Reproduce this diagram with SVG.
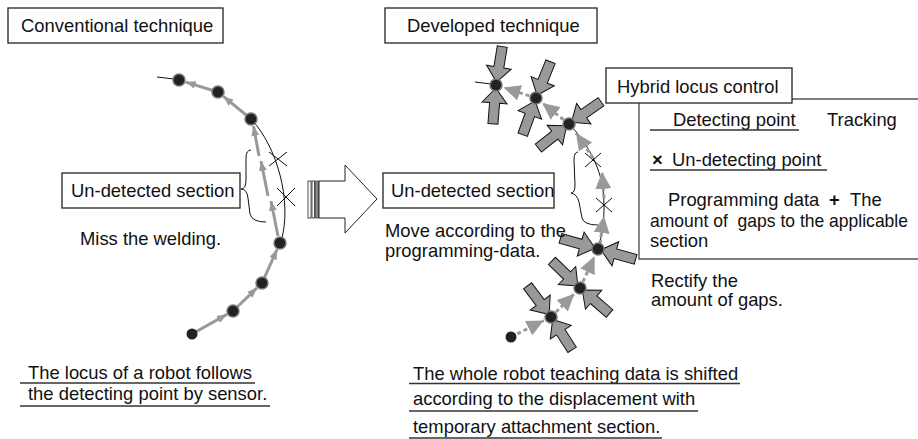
<svg xmlns="http://www.w3.org/2000/svg" xmlns:xlink="http://www.w3.org/1999/xlink" width="918" height="439" viewBox="0 0 918 439">
  <style>
    text { font-family: "Liberation Sans", Arial, sans-serif; font-size: 18.4px; fill: #111; }
    .box { fill: #fff; stroke: #222; stroke-width: 1.3; }
    .uline { stroke: #333; stroke-width: 1.3; }
    .bracket { fill: none; stroke: #555; stroke-width: 1.4; }
    .thin { fill: none; stroke: #111; stroke-width: 1; }
    .trail { stroke: #999; stroke-width: 3; fill: none; }
    .trail-dash { stroke: #999; stroke-width: 3; fill: none; stroke-dasharray: 4 3; }
    .dot { fill: #222; stroke: #777; stroke-width: 1.5; }
    .push { fill: #999; stroke: #111; stroke-width: 1; stroke-linejoin: miter; }
  </style>
  <defs>
    <marker id="smallHead" viewBox="0 0 10 8" refX="10" refY="4" markerWidth="10" markerHeight="8" markerUnits="userSpaceOnUse" orient="auto">
      <path d="M0,0 L10,4 L0,8 Z" fill="#999"/>
    </marker>
    <marker id="bigHead" viewBox="0 0 17 16" refX="17" refY="8" markerWidth="17" markerHeight="16" markerUnits="userSpaceOnUse" orient="auto">
      <path d="M0,0 L17,8 L0,16 Z" fill="#999"/>
    </marker>
    <!-- block arrow pointing along +x, tip 3px before the origin -->
    <path id="push" class="push" d="M-3,0 L-18,-12.5 L-18,-5 L-39,-5 L-39,5 L-18,5 L-18,12.5 Z"/>
  </defs>

  <rect width="918" height="439" fill="#fff"/>

  <!-- title boxes -->
  <g id="conventional-title">
    <rect class="box" x="8" y="8" width="215" height="35"/>
    <text x="21" y="32">Conventional technique</text>
  </g>
  <g id="developed-title">
    <rect class="box" x="385" y="8" width="212" height="35"/>
    <text x="407" y="32">Developed technique</text>
  </g>

  <!-- connectors -->
  <g id="connectors">
    <!-- left locus -->
    <line x1="157" y1="77" x2="174" y2="79" class="thin"/>
    <line class="trail" x1="192" y1="334" x2="226.9" y2="314.4" marker-end="url(#smallHead)"/>
    <line class="trail" x1="233" y1="311" x2="257" y2="287.9" marker-end="url(#smallHead)"/>
    <line class="trail" x1="262" y1="283" x2="277.1" y2="249.4" marker-end="url(#smallHead)"/>
    <line class="trail" x1="278" y1="236" x2="271" y2="201" marker-end="url(#smallHead)"/>
    <line class="trail" x1="268" y1="196" x2="261" y2="161" marker-end="url(#smallHead)"/>
    <line class="trail" x1="259" y1="156" x2="253.5" y2="126" marker-end="url(#smallHead)"/>
    <line class="trail" x1="251" y1="119" x2="223.4" y2="96.4" marker-end="url(#smallHead)"/>
    <line class="trail" x1="218" y1="92" x2="185.7" y2="82.1" marker-end="url(#smallHead)"/>
    <path class="thin" d="M252,120 C276,146 293,200 281,242"/>
    <path class="thin" d="M269,152 L287,166 M287,152 L269,166"/>
    <path class="thin" d="M277,188 L295,206 M295,188 L277,206"/>
    <path class="thin" d="M251,150 Q246,150 246,158 L246,180 Q246,189 241,189 Q247,189 248,198 L250,214 Q252,222 266,222"/>

    <!-- transition arrow -->
    <rect x="308" y="181" width="3" height="37" fill="#fff" stroke="#222" stroke-width="0.8"/>
    <rect x="312" y="181" width="2.5" height="37" fill="#fff" stroke="#222" stroke-width="0.8"/>
    <rect x="315.3" y="181" width="3.2" height="37" fill="#888" stroke="#444" stroke-width="0.8"/>
    <path d="M319,181 L345,181 L345,165 L377,199 L345,233 L345,218 L319,218 Z" fill="#fff" stroke="#222" stroke-width="1"/>

    <!-- right locus -->
    <line x1="475" y1="82" x2="491" y2="84" class="thin"/>
    <path class="thin" d="M569,124 C585,140 600,165 603,190 C606,215 602,235 598,249"/>
    <path class="thin" d="M585,153 L601,167 M601,153 L585,167"/>
    <path class="thin" d="M596,198 L612,212 M612,198 L596,212"/>
    <path class="thin" d="M578,152 Q574,152 574,160 L575,185 Q575,193 571,193 Q577,194 579,202 L582,218 Q584,225 598,225"/>
    <line class="trail-dash" x1="511" y1="337" x2="543.8" y2="320.6" marker-end="url(#bigHead)"/>
    <line class="trail-dash" x1="551" y1="317" x2="574.3" y2="293.7" marker-end="url(#bigHead)"/>
    <line class="trail-dash" x1="580" y1="288" x2="594.6" y2="256.3" marker-end="url(#bigHead)"/>
    <line class="trail-dash" x1="600" y1="244" x2="604" y2="216" marker-end="url(#bigHead)"/>
    <line class="trail-dash" x1="604" y1="198" x2="602" y2="172" marker-end="url(#bigHead)"/>
    <line class="trail-dash" x1="593" y1="158" x2="576" y2="133" marker-end="url(#bigHead)"/>
    <line class="trail-dash" x1="569" y1="124" x2="542.3" y2="103" marker-end="url(#bigHead)"/>
    <line class="trail-dash" x1="536" y1="98" x2="503.6" y2="87.5" marker-end="url(#bigHead)"/>

    <!-- pushing arrows toward the detected points -->
    <use xlink:href="#push" transform="translate(496,85) rotate(99.2)"/>
    <use xlink:href="#push" transform="translate(496,85) rotate(-85.5)"/>
    <use xlink:href="#push" transform="translate(536,98) rotate(111.8)"/>
    <use xlink:href="#push" transform="translate(536,98) rotate(-70.1)"/>
    <use xlink:href="#push" transform="translate(569,124) rotate(145.1)"/>
    <use xlink:href="#push" transform="translate(569,124) rotate(-38.2)"/>
    <use xlink:href="#push" transform="translate(598,249) rotate(15.9)"/>
    <use xlink:href="#push" transform="translate(598,249) rotate(195.4)"/>
    <use xlink:href="#push" transform="translate(580,288) rotate(44)"/>
    <use xlink:href="#push" transform="translate(580,288) rotate(220.8)"/>
    <use xlink:href="#push" transform="translate(551,317) rotate(53.1)"/>
    <use xlink:href="#push" transform="translate(551,317) rotate(237.2)"/>
  </g>

  <!-- locus points -->
  <g id="left-points">
    <circle class="dot" cx="179" cy="80" r="6"/>
    <circle class="dot" cx="218" cy="92" r="6"/>
    <circle class="dot" cx="251" cy="119" r="6"/>
    <circle class="dot" cx="280" cy="243" r="6"/>
    <circle class="dot" cx="262" cy="283" r="6"/>
    <circle class="dot" cx="233" cy="311" r="6"/>
    <circle cx="192" cy="334" r="5.5" fill="#222"/>
  </g>
  <g id="right-points">
    <circle class="dot" cx="496" cy="85" r="6"/>
    <circle class="dot" cx="536" cy="98" r="6"/>
    <circle class="dot" cx="569" cy="124" r="6"/>
    <circle class="dot" cx="598" cy="249" r="6"/>
    <circle class="dot" cx="580" cy="288" r="6"/>
    <circle class="dot" cx="551" cy="317" r="6"/>
    <circle cx="511" cy="337" r="5.5" fill="#222"/>
  </g>

  <!-- left labels -->
  <g id="left-undetected">
    <rect class="box" x="62" y="173" width="178" height="35"/>
    <text x="71" y="197">Un-detected section</text>
  </g>
  <g id="left-miss">
    <text x="80" y="245">Miss the welding.</text>
  </g>
  <g id="left-note">
    <text x="28" y="379">The locus of a robot follows</text>
    <line class="uline" x1="20" y1="383" x2="255" y2="383"/>
    <text x="28" y="400">the detecting point by sensor.</text>
    <line class="uline" x1="20" y1="406" x2="270" y2="406"/>
  </g>

  <!-- right labels -->
  <g id="right-undetected">
    <rect class="box" x="383" y="173" width="171" height="35"/>
    <text x="391" y="197" font-size="17.4">Un-detected section</text>
  </g>
  <g id="right-move">
    <text x="385" y="237">Move according to the</text>
    <text x="385" y="257">programming-data.</text>
  </g>
  <g id="right-rectify">
    <text x="651" y="287">Rectify the</text>
    <text x="651" y="306">amount of gaps.</text>
  </g>
  <g id="right-note">
    <text x="413" y="380">The whole robot teaching data is shifted</text>
    <line class="uline" x1="409" y1="383.5" x2="740" y2="383.5"/>
    <text x="413" y="405">according to the displacement with</text>
    <line class="uline" x1="409" y1="411" x2="698" y2="411"/>
    <text x="413" y="433">temporary attachment section.</text>
    <line class="uline" x1="409" y1="438" x2="662" y2="438"/>
  </g>

  <!-- hybrid locus control panel -->
  <g id="hybrid">
    <path class="bracket" d="M792,99 L918,99 M639,103 L639,259 L918,259"/>
    <rect class="box" x="606" y="68" width="186" height="35" stroke-width="1.6"/>
    <text x="617" y="93">Hybrid locus control</text>
    <text x="673" y="126">Detecting point</text>
    <line class="uline" x1="650" y1="130" x2="799" y2="130"/>
    <text x="827" y="126">Tracking</text>
    <text x="652" y="166" font-size="15" font-weight="bold">×</text>
    <text x="672" y="166">Un-detecting point</text>
    <line class="uline" x1="650" y1="170" x2="827" y2="170"/>
    <text x="668" y="206">Programming data</text>
    <text x="829" y="206" font-weight="bold">+</text>
    <text x="850" y="206">The</text>
    <text x="650" y="227" font-size="16.6" textLength="258" lengthAdjust="spacingAndGlyphs" xml:space="preserve">amount of  gaps to the applicable</text>
    <text x="650" y="247">section</text>
  </g>
</svg>
